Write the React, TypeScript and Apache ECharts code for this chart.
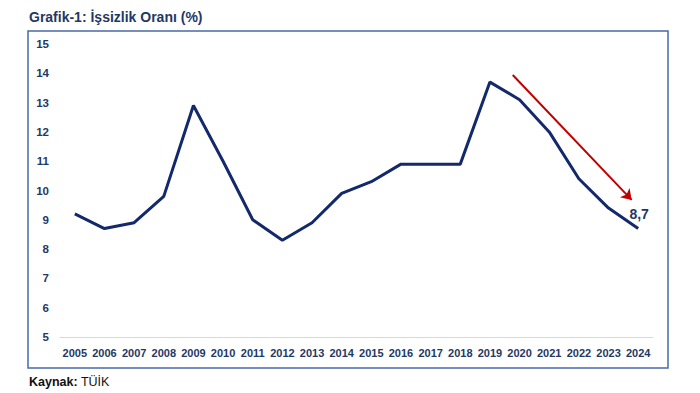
import React, { useEffect, useRef } from "react";
import * as echarts from "echarts";

const years = ["2005","2006","2007","2008","2009","2010","2011","2012","2013","2014","2015","2016","2017","2018","2019","2020","2021","2022","2023","2024"];
const unemployment = [9.2, 8.7, 8.9, 9.8, 12.9, 11.0, 9.0, 8.3, 8.9, 9.9, 10.3, 10.9, 10.9, 10.9, 13.7, 13.1, 12.0, 10.4, 9.4, 8.7];
const arrowStart = [14.77, 13.94];
const arrowEnd = [18.78, 9.68];
const lastLabel = "8,7";

const NAVY = "#1f3864";
const FONT = "'Liberation Sans', Arial, sans-serif";
const NARROW = "'Liberation Sans Narrow', 'Liberation Sans', Arial, sans-serif";

export default function App() {
  const ref = useRef<HTMLDivElement>(null);
  useEffect(() => {
    if (!ref.current) return;
    const chart = echarts.init(ref.current, null, { renderer: "svg" });
    chart.setOption({
      animation: false,
      backgroundColor: "#ffffff",
      grid: { left: 60, right: 47, top: 44, bottom: 56 },
      xAxis: [
        {
          type: "category",
          data: years,
          boundaryGap: true,
          axisLine: { show: true, lineStyle: { color: "#d9d9d9", width: 1 } },
          axisTick: { show: false },
          axisLabel: { interval: 0, color: NAVY, fontWeight: "bold", fontSize: 11, fontFamily: FONT, margin: 10 },
        },
        { type: "value", min: -0.5, max: 19.5, show: false },
      ],
      yAxis: {
        type: "value",
        min: 5,
        max: 15,
        interval: 1,
        axisLine: { show: false },
        axisTick: { show: false },
        splitLine: { show: false },
        axisLabel: { color: NAVY, fontWeight: "bold", fontSize: 11.5, fontFamily: FONT, margin: 11 },
      },
      series: [
        {
          type: "line",
          data: unemployment.map((v, i) =>
            i === unemployment.length - 1
              ? {
                  value: v,
                  symbol: "circle",
                  symbolSize: 1,
                  itemStyle: { color: "rgba(0,0,0,0)" },
                  label: {
                    show: true,
                    position: "top",
                    distance: 8,
                    offset: [1, 1],
                    formatter: lastLabel,
                    color: NAVY,
                    fontWeight: "bold",
                    fontSize: 14,
                    fontFamily: FONT,
                  },
                }
              : { value: v, symbol: "none" }
          ),
          showSymbol: true,
          lineStyle: { color: "#13296b", width: 3 },
        },
        {
          type: "line",
          xAxisIndex: 1,
          data: [],
          markLine: {
            silent: true,
            symbol: ["none", "arrow"],
            symbolSize: 10,
            label: { show: false },
            lineStyle: { color: "#c00000", width: 2, type: "solid" },
            data: [[{ coord: arrowStart }, { coord: arrowEnd }]],
          },
        },
      ],
      graphic: [
        {
          type: "rect",
          shape: { x: 28, y: 31, width: 640, height: 337 },
          style: { fill: "none", stroke: "#4a69a6", lineWidth: 1.5 },
          silent: true,
        },
        {
          type: "text",
          left: 29,
          top: 10,
          style: {
            text: "Grafik-1: İşsizlik Oranı (%)",
            fill: NAVY,
            font: `bold 14px ${FONT}`,
          },
        },
        {
          type: "text",
          left: 29,
          top: 375,
          style: {
            text: "{b|Kaynak:} {n|TÜİK}",
            rich: {
              b: { fontWeight: "bold", fontSize: 12.5, fontFamily: NARROW, fill: "#111" },
              n: { fontSize: 12.5, fontFamily: NARROW, fill: "#111" },
            },
          },
        },
      ],
    });
    return () => chart.dispose();
  }, []);
  return <div ref={ref} style={{ width: 700, height: 393, position: "absolute", left: 0, top: 0 }} />;
}
